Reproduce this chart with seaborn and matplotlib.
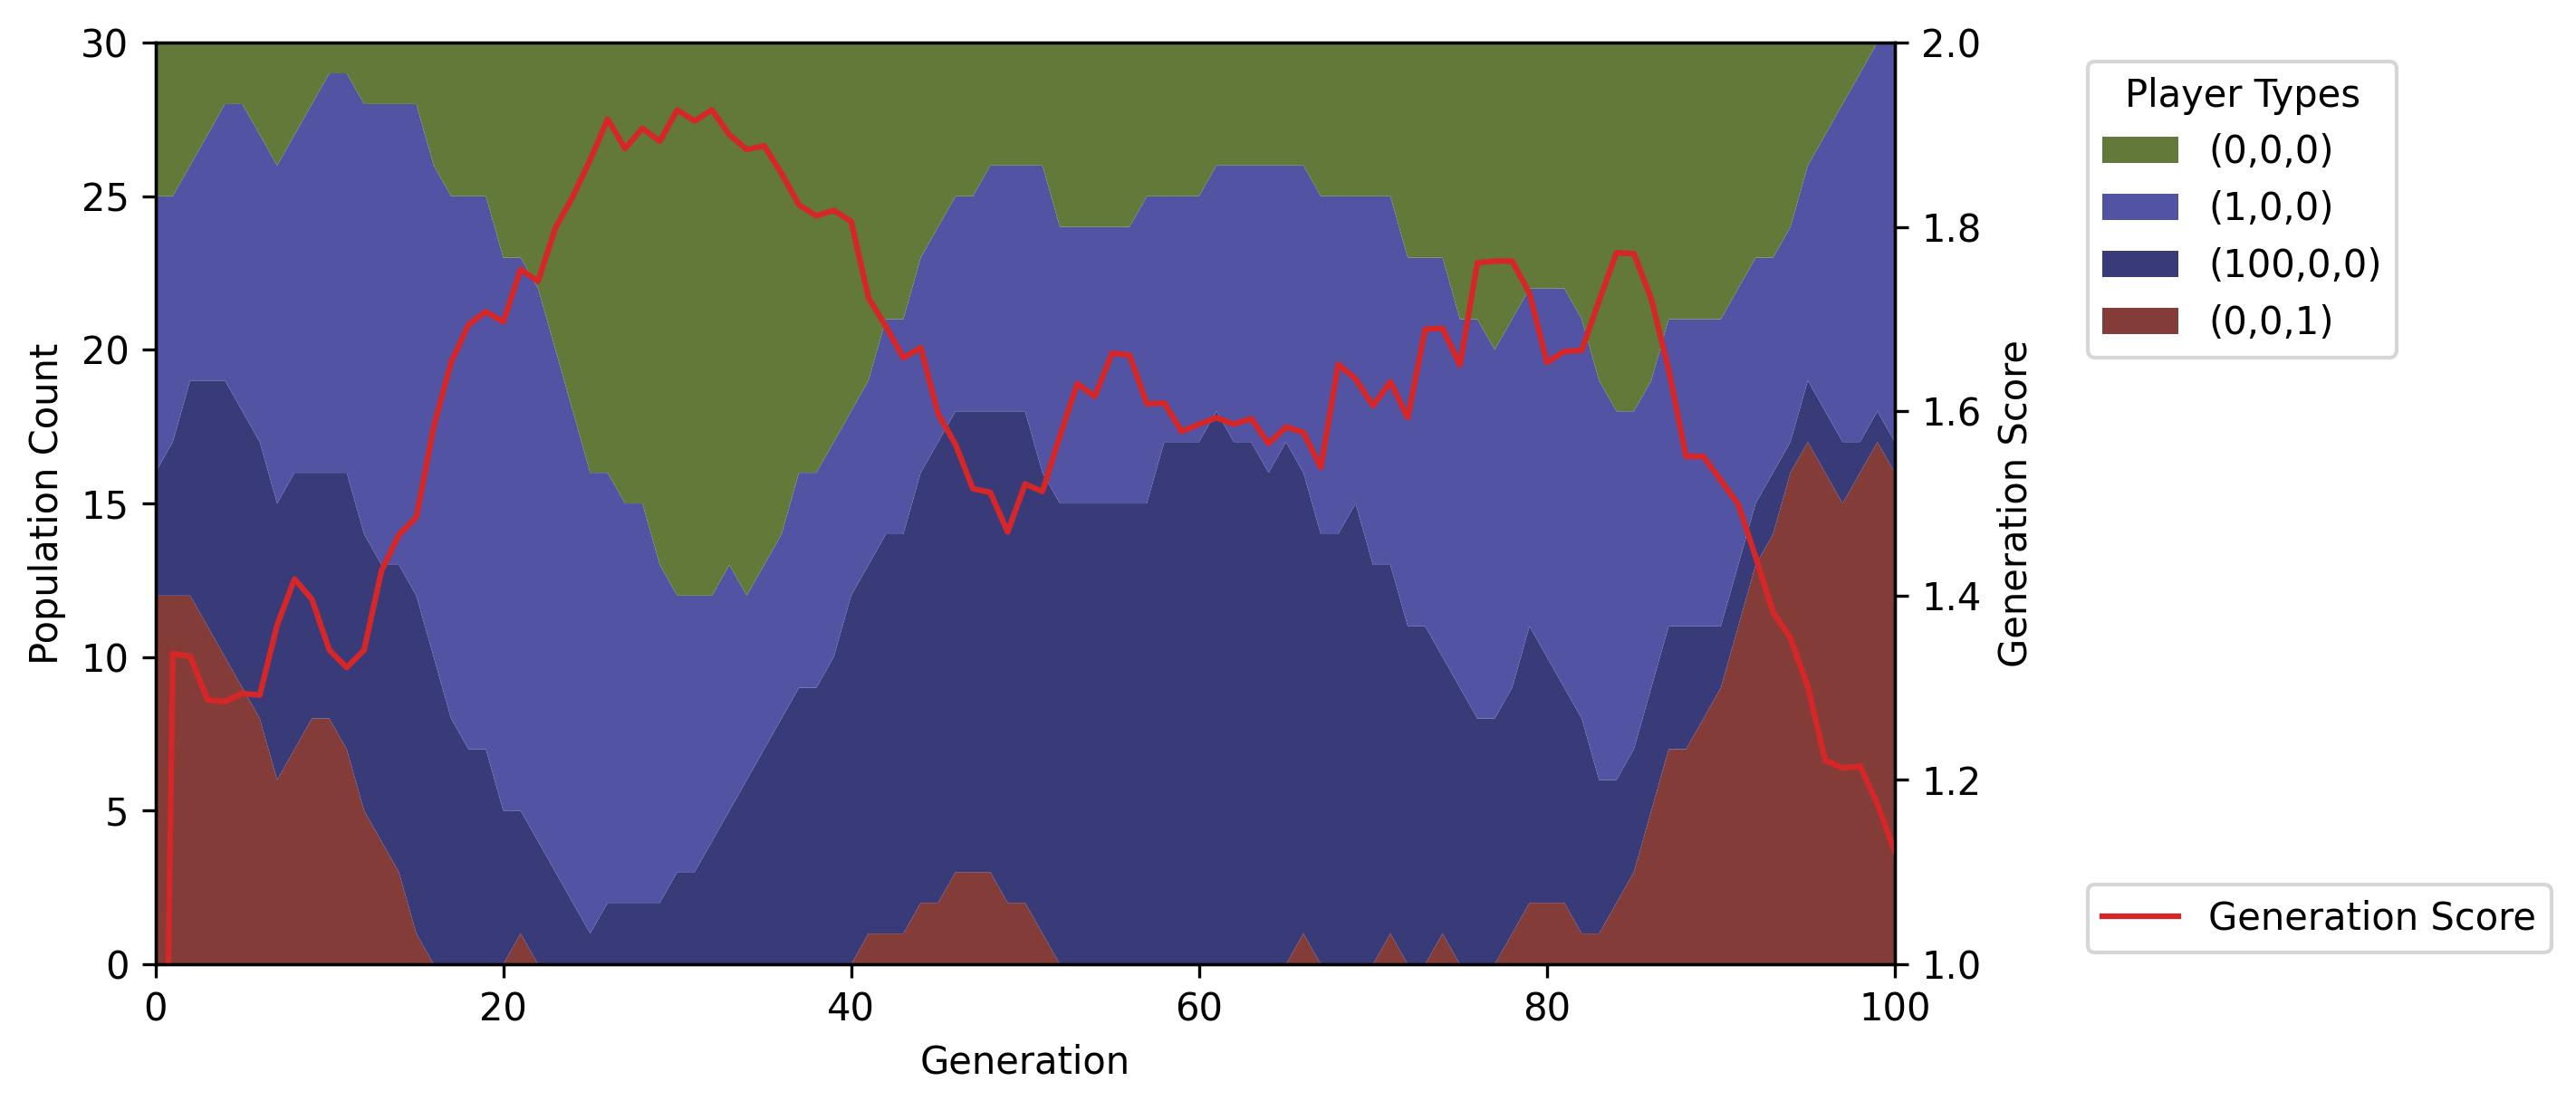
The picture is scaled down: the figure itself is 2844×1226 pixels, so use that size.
import numpy as np
import matplotlib
matplotlib.use("Agg")
import matplotlib.pyplot as plt
import seaborn as sns

# generations 0..100
generations = list(range(101))

# population counts per player type
type_001 = [12, 12, 12, 11, 10, 9, 8, 6, 7, 8, 8, 7, 5, 4, 3, 1, 0, 0, 0, 0,
            0, 1, 0, 0, 0, 0, 0, 0, 0, 0, 0, 0, 0, 0, 0, 0, 0, 0, 0, 0,
            0, 1, 1, 1, 2, 2, 3, 3, 3, 2, 2, 1, 0, 0, 0, 0, 0, 0, 0, 0,
            0, 0, 0, 0, 0, 0, 1, 0, 0, 0, 0, 1, 0, 0, 1, 0, 0, 0, 1, 2,
            2, 2, 1, 1, 2, 3, 5, 7, 7, 8, 9, 11, 13, 14, 16, 17, 16, 15, 16, 17, 16]
type_100 = [4, 5, 7, 8, 9, 9, 9, 9, 9, 8, 8, 9, 9, 9, 10, 11, 10, 8, 7, 7,
            5, 4, 4, 3, 2, 1, 2, 2, 2, 2, 3, 3, 4, 5, 6, 7, 8, 9, 9, 10,
            12, 12, 13, 13, 14, 15, 15, 15, 15, 16, 16, 15, 15, 15, 15, 15, 15, 15, 17, 17,
            17, 18, 17, 17, 16, 17, 15, 14, 14, 15, 13, 12, 11, 11, 9, 9, 8, 8, 8, 9,
            8, 7, 7, 5, 4, 4, 4, 4, 4, 3, 2, 2, 2, 2, 1, 2, 2, 2, 1, 1, 1]
type_1 = [9, 8, 7, 8, 9, 10, 10, 11, 11, 12, 13, 13, 14, 15, 15, 16, 16, 17, 18, 18,
          18, 18, 18, 17, 16, 15, 14, 13, 13, 11, 9, 9, 8, 8, 6, 6, 6, 7, 7, 7,
          6, 6, 7, 7, 7, 7, 7, 7, 8, 8, 8, 10, 9, 9, 9, 9, 9, 10, 8, 8,
          8, 8, 9, 9, 10, 9, 10, 11, 11, 10, 12, 12, 12, 12, 13, 12, 13, 12, 12, 11,
          12, 13, 13, 13, 12, 11, 10, 10, 10, 10, 10, 9, 8, 7, 7, 7, 9, 11, 12, 12, 13]
type_0 = [5, 5, 4, 3, 2, 2, 3, 4, 3, 2, 1, 1, 2, 2, 2, 2, 4, 5, 5, 5,
          7, 7, 8, 10, 12, 14, 14, 15, 15, 17, 18, 18, 18, 17, 18, 17, 16, 14, 14, 13,
          12, 11, 9, 9, 7, 6, 5, 5, 4, 4, 4, 4, 6, 6, 6, 6, 6, 5, 5, 5,
          5, 4, 4, 4, 4, 4, 4, 5, 5, 5, 5, 5, 7, 7, 7, 9, 9, 10, 9, 8,
          8, 8, 9, 11, 12, 12, 11, 9, 9, 9, 9, 8, 7, 7, 6, 4, 3, 2, 1, 0, 0]

# average score of each generation
gen_score = [0.0, 1.337, 1.334, 1.287, 1.285, 1.294, 1.292, 1.368, 1.418, 1.396,
             1.341, 1.322, 1.341, 1.427, 1.466, 1.485, 1.583, 1.653, 1.694, 1.708,
             1.697, 1.754, 1.741, 1.799, 1.833, 1.873, 1.917, 1.885, 1.907, 1.893,
             1.927, 1.915, 1.927, 1.900, 1.884, 1.888, 1.858, 1.824, 1.812, 1.818,
             1.806, 1.723, 1.692, 1.658, 1.669, 1.597, 1.564, 1.516, 1.512, 1.469,
             1.521, 1.513, 1.573, 1.630, 1.616, 1.663, 1.661, 1.608, 1.609, 1.578,
             1.586, 1.593, 1.586, 1.592, 1.565, 1.583, 1.577, 1.539, 1.651, 1.635,
             1.606, 1.632, 1.593, 1.689, 1.690, 1.650, 1.761, 1.763, 1.763, 1.728,
             1.653, 1.665, 1.666, 1.720, 1.772, 1.771, 1.722, 1.645, 1.551, 1.551,
             1.525, 1.499, 1.442, 1.382, 1.354, 1.301, 1.221, 1.213, 1.215, 1.174,
             1.122]

type_labels = ['(0,0,1)', '(100,0,0)', '(1,0,0)', '(0,0,0)']

pal = sns.color_palette("tab20b")
type_colors = [pal[12], pal[0], pal[1], pal[4]]

fig = plt.figure(figsize=(2845 / 300, 1226 / 300), dpi=300)
ax = fig.add_axes([0.0603, 0.1313, 0.675, 0.8303])

# stacked population, bottom layer first
polys = ax.stackplot(generations, type_001, type_100, type_1, type_0,
                     labels=type_labels, colors=type_colors)
ax.set_xlim(0, 100)
ax.set_ylim(0, 30)
ax.set_xticks(np.arange(0, 101, 20))
ax.set_yticks(np.arange(0, 31, 5))
ax.set_xlabel('Generation')
ax.set_ylabel('Population Count')

# score on a second y axis
ax2 = ax.twinx()
sns.lineplot(x=generations, y=gen_score, ax=ax2, color='#d62728',
             linewidth=1.5, label='Generation Score')
ax2.set_ylim(1.0, 2.0)
ax2.set_yticks(np.arange(1.0, 2.01, 0.2))
ax2.set_ylabel('Generation Score')

# legends: player types (top first) and score line
ax.legend(polys[::-1], type_labels[::-1], title='Player Types',
          loc='upper left', bbox_to_anchor=(1.1, 1.0))
ax2.legend(loc='lower left', bbox_to_anchor=(1.1, -0.008))

fig.savefig('out.png', dpi=300)
